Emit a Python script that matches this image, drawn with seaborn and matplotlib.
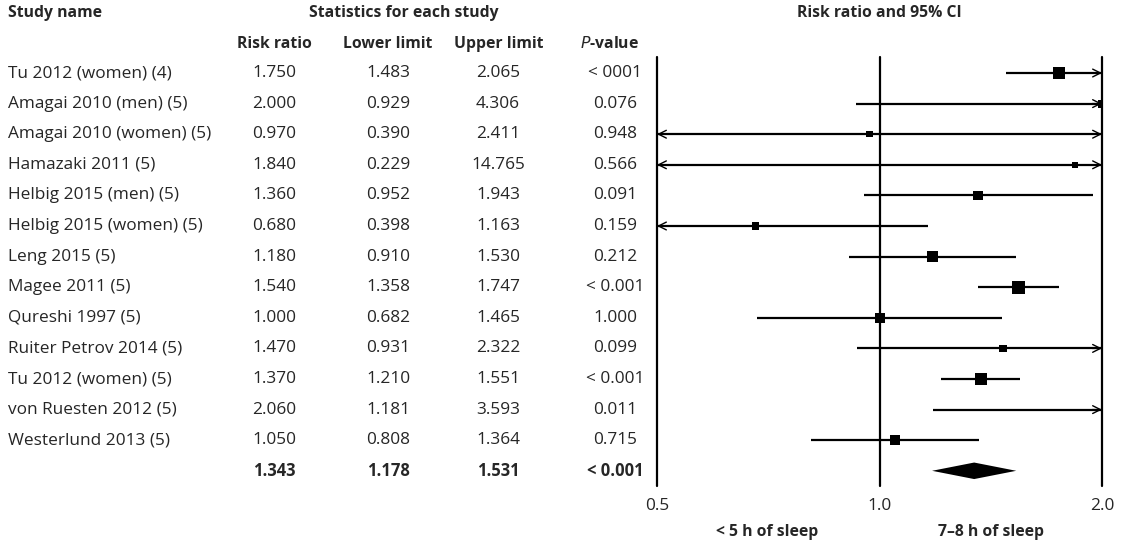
import matplotlib
matplotlib.use("Agg")
import matplotlib.pyplot as plt
import matplotlib.transforms as mtransforms
import seaborn as sns
import numpy as np
import pandas as pd

# ---------------- data ----------------
studies = ["Tu 2012 (women) (4)", "Amagai 2010 (men) (5)", "Amagai 2010 (women) (5)",
           "Hamazaki 2011 (5)", "Helbig 2015 (men) (5)", "Helbig 2015 (women) (5)",
           "Leng 2015 (5)", "Magee 2011 (5)", "Qureshi 1997 (5)", "Ruiter Petrov 2014 (5)",
           "Tu 2012 (women) (5)", "von Ruesten 2012 (5)", "Westerlund 2013 (5)"]
risk_ratio = [1.750, 2.000, 0.970, 1.840, 1.360, 0.680, 1.180, 1.540, 1.000, 1.470, 1.370, 2.060, 1.050]
lower_limit = [1.483, 0.929, 0.390, 0.229, 0.952, 0.398, 0.910, 1.358, 0.682, 0.931, 1.210, 1.181, 0.808]
upper_limit = [2.065, 4.306, 2.411, 14.765, 1.943, 1.163, 1.530, 1.747, 1.465, 2.322, 1.551, 3.593, 1.364]
p_value = ["< 0001", "0.076", "0.948", "0.566", "0.091", "0.159", "0.212", "< 0.001",
           "1.000", "0.099", "< 0.001", "0.011", "0.715"]
# relative study weight (drawn as square size)
study_weight = [12.5, 8, 6.5, 6, 9.5, 7.5, 10.5, 13, 10, 7.5, 12, 10, 10.5]

summary_rr = 1.343
summary_lower = 1.178
summary_upper = 1.531
summary_p = "< 0.001"

x_ticks = [0.5, 1.0, 2.0]
x_tick_labels = ["0.5", "1.0", "2.0"]
x_min, x_max = 0.5, 2.0

# ---------------- style ----------------
sns.set_theme(style="white")
plt.rcParams["font.family"] = ["Open Sans", "DejaVu Sans"]
FS = 12.4      # regular text
FSB = 11.3     # bold text

W, H = 1121, 547
fig = plt.figure(figsize=(W / 100, H / 100), dpi=100)

def fx(px):
    return px / W

def fy(py):
    return 1 - py / H

ax = fig.add_axes([fx(657), fy(486), fx(1102) - fx(657), (486 - 57) / H])
ax.set_xscale("log")
ax.set_xlim(x_min, x_max)
n = len(studies)
row_px = 30.6
ax.set_ylim((486 - 73) / row_px, (57 - 73) / row_px)

df = pd.DataFrame({"study": studies, "rr": risk_ratio, "lo": lower_limit,
                   "hi": upper_limit, "w": study_weight, "row": np.arange(n)})

# vertical reference lines
for t in x_ticks:
    ax.axvline(t, color="black", lw=1.6, clip_on=False, zorder=1)

# confidence intervals
for _, r in df.iterrows():
    lo_c = max(r.lo, x_min)
    hi_c = min(r.hi, x_max)
    left = r.lo < x_min
    right = r.hi > x_max
    ax.plot([lo_c, hi_c], [r.row, r.row], color="black", lw=1.6, zorder=2,
            solid_capstyle="butt")
    if right:
        ax.annotate("", xy=(hi_c, r.row), xytext=(hi_c * 0.97, r.row),
                    arrowprops=dict(arrowstyle="->", lw=1.0, color="black",
                                    shrinkA=0, shrinkB=0, mutation_scale=14),
                    zorder=2)
    if left:
        ax.annotate("", xy=(lo_c, r.row), xytext=(lo_c / 0.97, r.row),
                    arrowprops=dict(arrowstyle="->", lw=1.0, color="black",
                                    shrinkA=0, shrinkB=0, mutation_scale=14),
                    zorder=2)

# squares
sizes = (np.array(study_weight) * 0.72) ** 2
sns.scatterplot(data=df, x="rr", y="row", marker="s", color="black",
                s=sizes, linewidth=0, ax=ax, zorder=3, legend=False)

# summary diamond
dh = 0.27
ax.fill([summary_lower, summary_rr, summary_upper, summary_rr],
        [n, n - dh, n, n + dh], color="black", lw=0, zorder=3)

ax.set_yticks([])
ax.set_xticks(x_ticks)
ax.set_xticklabels(x_tick_labels, fontsize=FS)
ax.xaxis.set_minor_locator(matplotlib.ticker.NullLocator())
ax.tick_params(axis="x", length=0, pad=9)
ax.set_xlabel("")
ax.set_ylabel("")
for s in ax.spines.values():
    s.set_visible(False)

# ---------------- table text ----------------
trans = mtransforms.blended_transform_factory(fig.transFigure, ax.transData)
col_x = {"rr": 274, "lo": 388, "hi": 498, "p": 615}
for i in range(n):
    fig.text(fx(8), i, studies[i], transform=trans, fontsize=FS, va="center", ha="left")
    fig.text(fx(col_x["rr"]), i, f"{risk_ratio[i]:.3f}", transform=trans, fontsize=FS, va="center", ha="center")
    fig.text(fx(col_x["lo"]), i, f"{lower_limit[i]:.3f}", transform=trans, fontsize=FS, va="center", ha="center")
    fig.text(fx(col_x["hi"]), i, f"{upper_limit[i]:.3f}", transform=trans, fontsize=FS, va="center", ha="center")
    fig.text(fx(col_x["p"]), i, p_value[i], transform=trans, fontsize=FS, va="center", ha="center")

for key, val in [("rr", f"{summary_rr:.3f}"), ("lo", f"{summary_lower:.3f}"),
                 ("hi", f"{summary_upper:.3f}"), ("p", summary_p)]:
    fig.text(fx(col_x[key]), n, val, transform=trans, fontsize=FSB + 0.6, va="center",
             ha="center", fontweight="bold")

# headers
fig.text(fx(8), fy(13), "Study name", fontsize=FSB, fontweight="bold", va="center", ha="left")
fig.text(fx(404), fy(13), "Statistics for each study", fontsize=FSB, fontweight="bold", va="center", ha="center")
fig.text(fx(879), fy(13), "Risk ratio and 95% CI", fontsize=FSB, fontweight="bold", va="center", ha="center")
fig.text(fx(274), fy(44), "Risk ratio", fontsize=FSB, fontweight="bold", va="center", ha="center")
fig.text(fx(388), fy(44), "Lower limit", fontsize=FSB, fontweight="bold", va="center", ha="center")
fig.text(fx(499), fy(44), "Upper limit", fontsize=FSB, fontweight="bold", va="center", ha="center")
fig.text(fx(609), fy(44), "$\\bf{\\it{P}}$-value", fontsize=FSB, fontweight="bold", va="center", ha="center")

fig.text(fx(767), fy(532), "< 5 h of sleep", fontsize=FSB, fontweight="bold", va="center", ha="center")
fig.text(fx(991), fy(532), "7\u20138 h of sleep", fontsize=FSB, fontweight="bold", va="center", ha="center")

fig.savefig("out.png", dpi=100, facecolor="white")
